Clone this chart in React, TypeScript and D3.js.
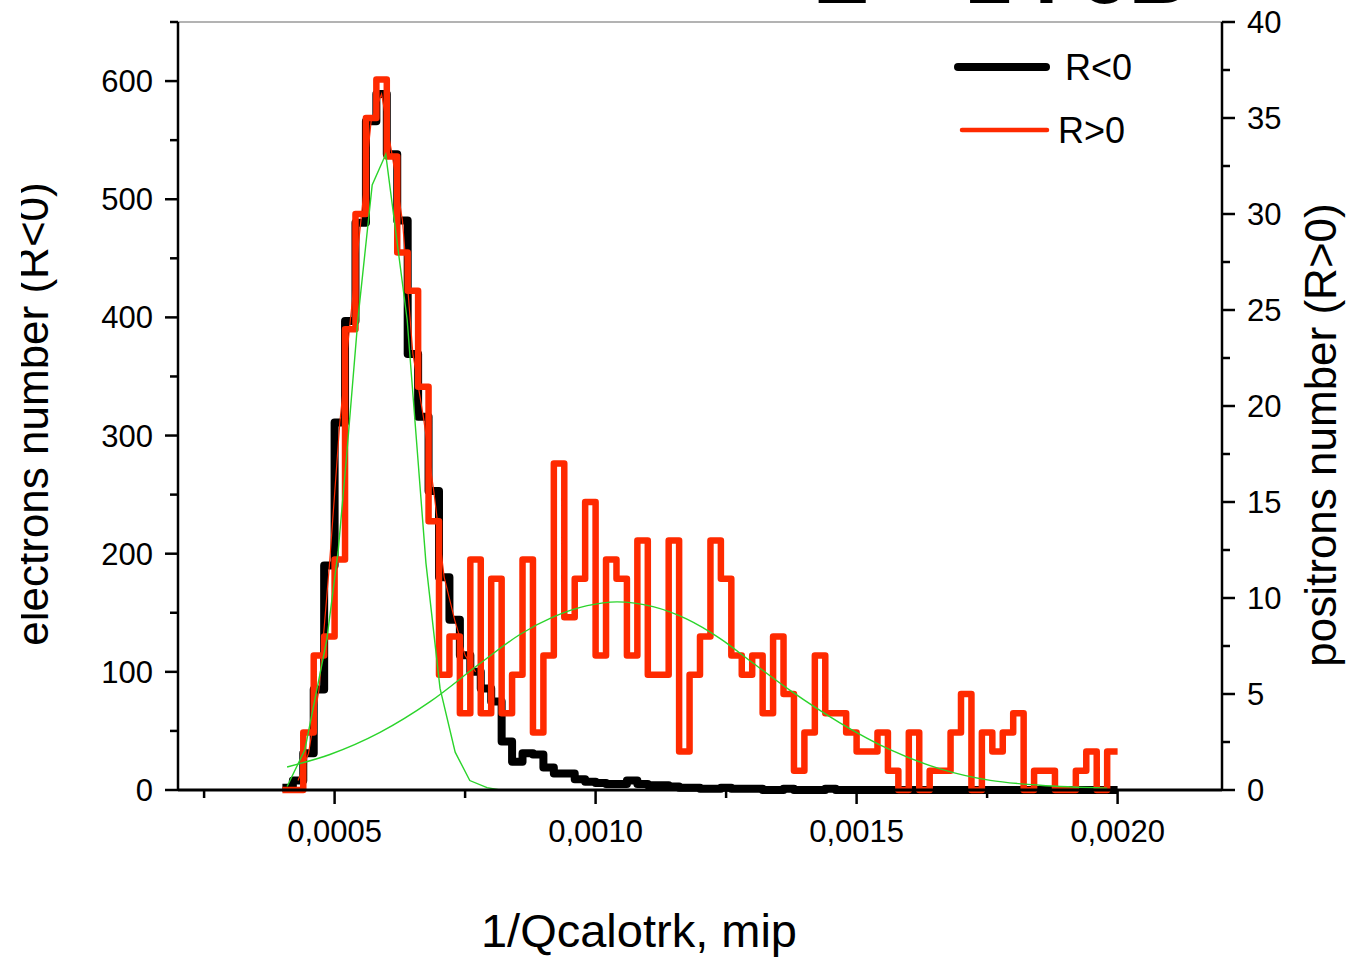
import React from 'react';
import * as d3 from 'd3';

// ---- data ----
const BIN_WIDTH = 0.00002;
const FIRST_BIN = 20; // first bin starts at 0.00040

// electrons (R<0), left axis
const electronCounts = [
  2, 8, 31, 85, 190, 311, 397, 480, 566, 589,
  538, 482, 369, 316, 253, 180, 144, 114, 100, 86,
  75, 41, 24, 31, 30, 19, 14, 14, 9, 7,
  6, 5, 5, 8, 5, 4, 4, 3, 2, 2,
  1, 1, 2, 1, 1, 1, 0, 0, 1, 0,
  0, 0, 1, 0, 0, 0, 0, 0, 0, 0,
  0, 0, 0, 0, 0, 0, 0, 0, 0, 0,
  0, 0, 0, 0, 0, 0, 0, 0, 0, 0,
];

// positrons (R>0), right axis
const positronCounts = [
  0, 0, 3, 7, 8, 12, 24, 30, 35, 37,
  33, 28, 26, 21, 14, 6, 8, 4, 12, 4,
  11, 4, 6, 12, 3, 7, 17, 9, 11, 15,
  7, 12, 11, 7, 13, 6, 6, 13, 2, 6,
  8, 13, 11, 7, 6, 7, 4, 8, 5, 1,
  3, 7, 4, 4, 3, 2, 2, 3, 1, 0,
  3, 0, 1, 1, 3, 5, 0, 3, 2, 3,
  4, 0, 1, 1, 0, 0, 1, 2, 0, 2,
];

// narrow fit (left axis units)
const electronFitX = [0.000409, 0.000443, 0.000485, 0.000507, 0.000524, 0.000545, 0.000572, 0.000598, 0.000639, 0.000675, 0.000702, 0.000731, 0.000759, 0.000792, 0.000817, 0.002];
const electronFitY = [3, 34, 127, 203, 288, 400, 512, 538, 398, 192, 86, 32, 8, 2, 0, 0];

// broad fit (right axis units)
const positronFitX = [0.000409, 0.000491, 0.000587, 0.000683, 0.000779, 0.000855, 0.000918, 0.000984, 0.001041, 0.00111, 0.001175, 0.001238, 0.001302, 0.001372, 0.001468, 0.001564, 0.00166, 0.001756, 0.001851, 0.00198];
const positronFitY = [1.2, 1.85, 3.0, 4.6, 6.6, 8.1, 9.0, 9.6, 9.8, 9.55, 8.9, 7.9, 6.6, 5.2, 3.5, 2.1, 1.1, 0.5, 0.25, 0.1];

const xMajorTicks = [0.0005, 0.001, 0.0015, 0.002];
const xTickLabels = ['0,0005', '0,0010', '0,0015', '0,0020'];
const xMinorTicks = [0.00025, 0.00075, 0.00125, 0.00175];
const leftMajorTicks = [0, 100, 200, 300, 400, 500, 600];
const leftMinorTicks = [50, 150, 250, 350, 450, 550, 650];
const rightMajorTicks = [0, 5, 10, 15, 20, 25, 30, 35, 40];
const rightMinorTicks = [2.5, 7.5, 12.5, 17.5, 22.5, 27.5, 32.5, 37.5];

const legendLabels = ['R<0', 'R>0'];
const titleText = 'E > 1 ГэВ';

// ---- layout ----
const W = 1348;
const H = 958;
const L = 178;
const R = 1222;
const T = 22;
const B = 790;
const FONT = 'Liberation Sans, Arial, Helvetica, sans-serif';
const RED = '#ff2a00';
const GREEN = '#2bd42b';

export default function App() {
  const x = d3.scaleLinear().domain([0.0002, 0.0022]).range([L, R]);
  const yL = d3.scaleLinear().domain([0, 650]).range([B, T]);
  const yR = d3.scaleLinear().domain([0, 40]).range([B, T]);

  const stepPoints = (counts: number[]) => {
    const pts: [number, number][] = counts.map((c, i) => [(FIRST_BIN + i) * BIN_WIDTH, c]);
    pts.push([(FIRST_BIN + counts.length) * BIN_WIDTH, counts[counts.length - 1]]);
    return pts;
  };

  const stepLeft = d3.line<[number, number]>().x(d => x(d[0])).y(d => yL(d[1])).curve(d3.curveStepAfter);
  const stepRight = d3.line<[number, number]>().x(d => x(d[0])).y(d => yR(d[1])).curve(d3.curveStepAfter);
  const lineLeft = d3.line<[number, number]>().x(d => x(d[0])).y(d => yL(d[1]));
  const smoothRight = d3.line<[number, number]>().x(d => x(d[0])).y(d => yR(d[1])).curve(d3.curveMonotoneX);

  const electronPath = stepLeft(stepPoints(electronCounts)) || '';
  const positronPath = stepRight(stepPoints(positronCounts)) || '';
  const eFit = lineLeft(electronFitX.map((v, i) => [v, electronFitY[i]] as [number, number])) || '';
  const pFit = smoothRight(positronFitX.map((v, i) => [v, positronFitY[i]] as [number, number])) || '';
  // thin red line through electron bin centres around the peak
  const thinPts: [number, number][] = electronCounts
    .map((c, i) => [(FIRST_BIN + i + 0.5) * BIN_WIDTH, c] as [number, number])
    .slice(1, 19);
  const thinRed = lineLeft(thinPts) || '';

  return (
    <svg width={W} height={H} style={{ position: 'absolute', left: 0, top: 0, background: '#fff' }} fontFamily={FONT}>
      <defs>
        <clipPath id="leftTitleClip">
          <rect x={21} y={0} width={W} height={H} />
        </clipPath>
      </defs>
      <rect x={0} y={0} width={W} height={H} fill="#fff" />

      {/* cut-off title */}
      <text x={813} y={3} fontSize={84} fontWeight="bold" fill="#000">{titleText}</text>

      {/* frame top */}
      <line x1={L} x2={R} y1={T} y2={T} stroke="#9a9a9a" strokeWidth={1.5} />

      {/* histograms */}
      <path d={electronPath} fill="none" stroke="#000" strokeWidth={8} strokeLinejoin="round" />
      <path d={positronPath} fill="none" stroke={RED} strokeWidth={6.5} strokeLinejoin="round" />
      <path d={thinRed} fill="none" stroke={RED} strokeWidth={1.2} />
      <path d={eFit} fill="none" stroke={GREEN} strokeWidth={1.4} />
      <path d={pFit} fill="none" stroke={GREEN} strokeWidth={1.4} />

      {/* axes lines */}
      <line x1={L} x2={L} y1={T} y2={B} stroke="#000" strokeWidth={2.5} />
      <line x1={R} x2={R} y1={T} y2={B} stroke="#000" strokeWidth={2.5} />
      <line x1={L} x2={R} y1={B} y2={B} stroke="#000" strokeWidth={3} />

      {/* left ticks */}
      {leftMajorTicks.map(t => (
        <g key={'lm' + t}>
          <line x1={L - 13} x2={L} y1={yL(t)} y2={yL(t)} stroke="#000" strokeWidth={2.5} />
          <text x={153} y={yL(t) + 11} fontSize={31} textAnchor="end" fill="#000">{t}</text>
        </g>
      ))}
      {leftMinorTicks.map(t => (
        <line key={'ln' + t} x1={L - 8} x2={L} y1={yL(t)} y2={yL(t)} stroke="#000" strokeWidth={2.5} />
      ))}

      {/* right ticks */}
      {rightMajorTicks.map(t => (
        <g key={'rm' + t}>
          <line x1={R} x2={R + 13} y1={yR(t)} y2={yR(t)} stroke="#000" strokeWidth={2.5} />
          <text x={1247} y={yR(t) + 11} fontSize={31} textAnchor="start" fill="#000">{t}</text>
        </g>
      ))}
      {rightMinorTicks.map(t => (
        <line key={'rn' + t} x1={R} x2={R + 8} y1={yR(t)} y2={yR(t)} stroke="#000" strokeWidth={2.5} />
      ))}

      {/* x ticks */}
      {xMajorTicks.map((t, i) => (
        <g key={'xm' + t}>
          <line x1={x(t)} x2={x(t)} y1={B} y2={B + 14} stroke="#000" strokeWidth={2.5} />
          <text x={x(t)} y={842} fontSize={31} textAnchor="middle" fill="#000">{xTickLabels[i]}</text>
        </g>
      ))}
      {xMinorTicks.map(t => (
        <line key={'xn' + t} x1={x(t)} x2={x(t)} y1={B} y2={B + 8} stroke="#000" strokeWidth={2.5} />
      ))}

      {/* axis titles */}
      <g clipPath="url(#leftTitleClip)">
        <text transform={`translate(48,${414}) rotate(-90)`} fontSize={44} textAnchor="middle" fill="#000">
          electrons number (R&lt;0)
        </text>
      </g>
      <text transform={`translate(1336,${435}) rotate(-90)`} fontSize={44} textAnchor="middle" fill="#000">
        positrons number (R&gt;0)
      </text>
      <text x={639} y={947} fontSize={47} textAnchor="middle" fill="#000">1/Qcalotrk, mip</text>

      {/* legend */}
      <line x1={958} x2={1046} y1={67} y2={67} stroke="#000" strokeWidth={8} strokeLinecap="round" />
      <text x={1065} y={80} fontSize={36} fill="#000">{legendLabels[0]}</text>
      <line x1={962} x2={1047} y1={130} y2={130} stroke={RED} strokeWidth={4.5} strokeLinecap="round" />
      <text x={1058} y={143} fontSize={36} fill="#000">{legendLabels[1]}</text>
    </svg>
  );
}
